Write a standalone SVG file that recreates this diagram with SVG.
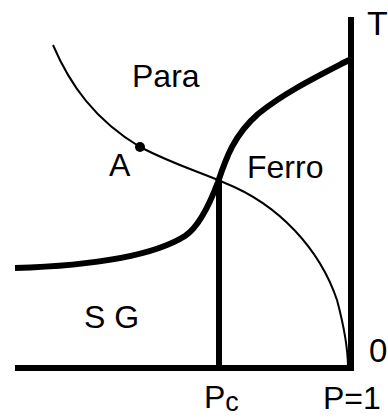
<svg xmlns="http://www.w3.org/2000/svg" width="388" height="418" viewBox="0 0 388 418">
<style>
.lbl{font-family:"Liberation Sans",Arial,sans-serif;font-size:32px;fill:#000}
.thin{fill:none;stroke:#000;stroke-width:2}
.thick{fill:none;stroke:#000;stroke-width:6}
</style>
<rect width="388" height="418" fill="#fff"/>
<g id="connectors">
<path id="axis-bottom" class="thick" d="M15,368 H354" stroke-width="5"/>
<path id="axis-right" class="thick" d="M351,17 V370"/>
<path id="pc-line" class="thick" d="M219,180 V368" stroke-width="4"/>
<path id="thin-curve" class="thin" d="M53,45 C70,85 95,120 140,147 C175,165 200,172 225,183 C280,205 320,250 337,300 C345,330 348,355 348,368"/>
<path id="thick-curve" class="thick" d="M15,268 C80,266 150,258 185,236 C200,226 212,198 218,182 C226,158 234,135 258,114 C285,92 320,75 349,60"/>
</g>
<g id="point-A"><circle cx="140" cy="147" r="5" fill="#000"/><text class="lbl" x="109" y="176">A</text></g>
<g id="para"><text class="lbl" x="132" y="87">Para</text></g>
<g id="ferro"><text class="lbl" x="247" y="178">Ferro</text></g>
<g id="sg"><text class="lbl" x="84" y="328">S G</text></g>
<g id="T"><text class="lbl" x="367" y="35" style="font-size:34px">T</text></g>
<g id="zero"><text class="lbl" x="369" y="362" style="font-size:33px">0</text></g>
<g id="pc"><text class="lbl" x="204" y="408">P<tspan dy="3" style="font-size:27px">c</tspan></text></g>
<g id="p1"><text class="lbl" x="323" y="409">P=1</text></g>
</svg>
